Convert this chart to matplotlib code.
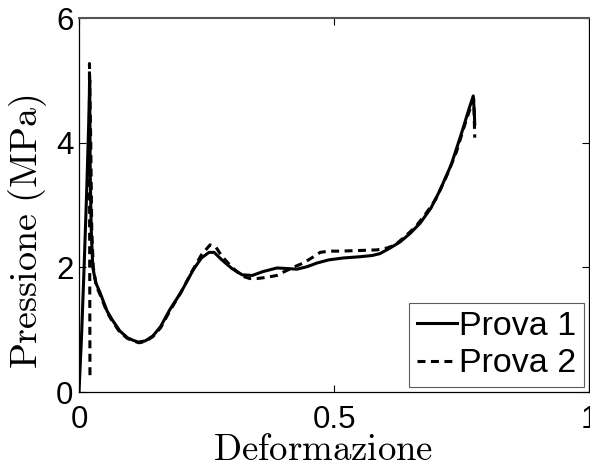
import matplotlib
matplotlib.use("Agg")
import matplotlib.pyplot as plt

# Prova 1 (solid)
x1 = [0.0, 0.005, 0.01, 0.015, 0.019, 0.021, 0.022, 0.024, 0.027, 0.033, 0.041,
      0.055, 0.065, 0.08, 0.095, 0.106, 0.116, 0.13, 0.145, 0.16, 0.178, 0.2,
      0.224, 0.24, 0.255, 0.265, 0.28, 0.3, 0.32, 0.34, 0.36, 0.388, 0.41,
      0.427, 0.447, 0.467, 0.49, 0.518, 0.551, 0.575, 0.59, 0.61, 0.63, 0.65,
      0.669, 0.69, 0.708, 0.73, 0.75, 0.765, 0.773, 0.775, 0.776]
y1 = [0.0, 0.9, 2.0, 3.2, 4.3, 5.0, 3.5, 2.6, 2.0, 1.75, 1.6,
      1.3, 1.16, 0.98, 0.87, 0.83, 0.80, 0.82, 0.9, 1.05, 1.32, 1.6,
      1.96, 2.15, 2.24, 2.24, 2.12, 1.98, 1.88, 1.87, 1.93, 1.99, 1.98,
      1.97, 2.01, 2.07, 2.12, 2.15, 2.17, 2.19, 2.22, 2.31, 2.41, 2.55,
      2.71, 2.95, 3.24, 3.65, 4.15, 4.55, 4.75, 4.5, 4.3]

# Prova 2 (dashed)
x2 = [0.0215, 0.021, 0.0205, 0.0205, 0.023, 0.025, 0.028, 0.034, 0.042, 0.055,
      0.065, 0.08, 0.095, 0.106, 0.118, 0.13, 0.145, 0.16, 0.178, 0.2, 0.224,
      0.24, 0.257, 0.268, 0.28, 0.3, 0.32, 0.335, 0.349, 0.368, 0.388, 0.4,
      0.42, 0.44, 0.46, 0.473, 0.49, 0.512, 0.55, 0.584, 0.604, 0.62, 0.64,
      0.66, 0.68, 0.7, 0.72, 0.74, 0.755, 0.767, 0.774, 0.776]
y2 = [0.27, 2.0, 4.0, 5.27, 4.0, 2.6, 2.0, 1.7, 1.55, 1.28,
      1.14, 0.96, 0.86, 0.82, 0.79, 0.81, 0.89, 1.03, 1.30, 1.6, 1.97,
      2.2, 2.36, 2.33, 2.18, 2.0, 1.86, 1.82, 1.82, 1.84, 1.87, 1.92,
      2.0, 2.07, 2.17, 2.24, 2.26, 2.26, 2.27, 2.28, 2.31, 2.36, 2.5,
      2.65, 2.86, 3.1, 3.45, 3.85, 4.25, 4.55, 4.7, 4.08]

xticks = [0, 0.5, 1]
xticklabels = ["0", "0.5", "1"]
yticks = [0, 2, 4, 6]
yticklabels = ["0", "2", "4", "6"]

plt.rcParams["font.family"] = ["Liberation Sans", "DejaVu Sans"]
plt.rcParams["mathtext.fontset"] = "cm"

fig = plt.figure(figsize=(5.9, 4.68), dpi=100)
ax = fig.add_axes([79 / 590, 76 / 468, 510 / 590, 374 / 468])

ax.plot(x1, y1, color="black", lw=2.2, label="Prova 1")
ax.plot(x2, y2, color="black", lw=2.2, ls=(0, (2.6, 1.8)), label="Prova 2")

ax.set_xlim(0, 1)
ax.set_ylim(0, 6)
ax.set_xticks(xticks)
ax.set_xticklabels(xticklabels)
ax.set_yticks(yticks)
ax.set_yticklabels(yticklabels)
ax.tick_params(direction="in", length=5, width=0.8, top=True, right=True,
               labelsize=22.5)
ax.tick_params(axis="x", pad=9)
ax.tick_params(axis="y", pad=4)
for s in ax.spines.values():
    s.set_linewidth(0.9)
ax.spines["top"].set_color("#555555")
ax.spines["top"].set_linewidth(1.5)

ax.set_xlabel(r"$\mathrm{Deformazione}$", fontsize=26.5)
ax.xaxis.set_label_coords(0.478, -0.11, transform=ax.transAxes)
ax.xaxis.label.set_va("top")
ax.set_ylabel(r"$\mathrm{Pressione\ (MPa)}$", fontsize=27.5)
ax.yaxis.label.set_va("center")
ax.yaxis.set_label_coords(-0.1, 0.43)

leg = ax.legend(loc="lower right", fontsize=24.5, frameon=True, fancybox=False,
                handlelength=1.2, handletextpad=0.05, borderpad=0.22,
                labelspacing=0.2, borderaxespad=0.15)
leg.get_frame().set_edgecolor("#333333")
leg.get_frame().set_linewidth(0.8)

fig.savefig("out.png", dpi=100)
